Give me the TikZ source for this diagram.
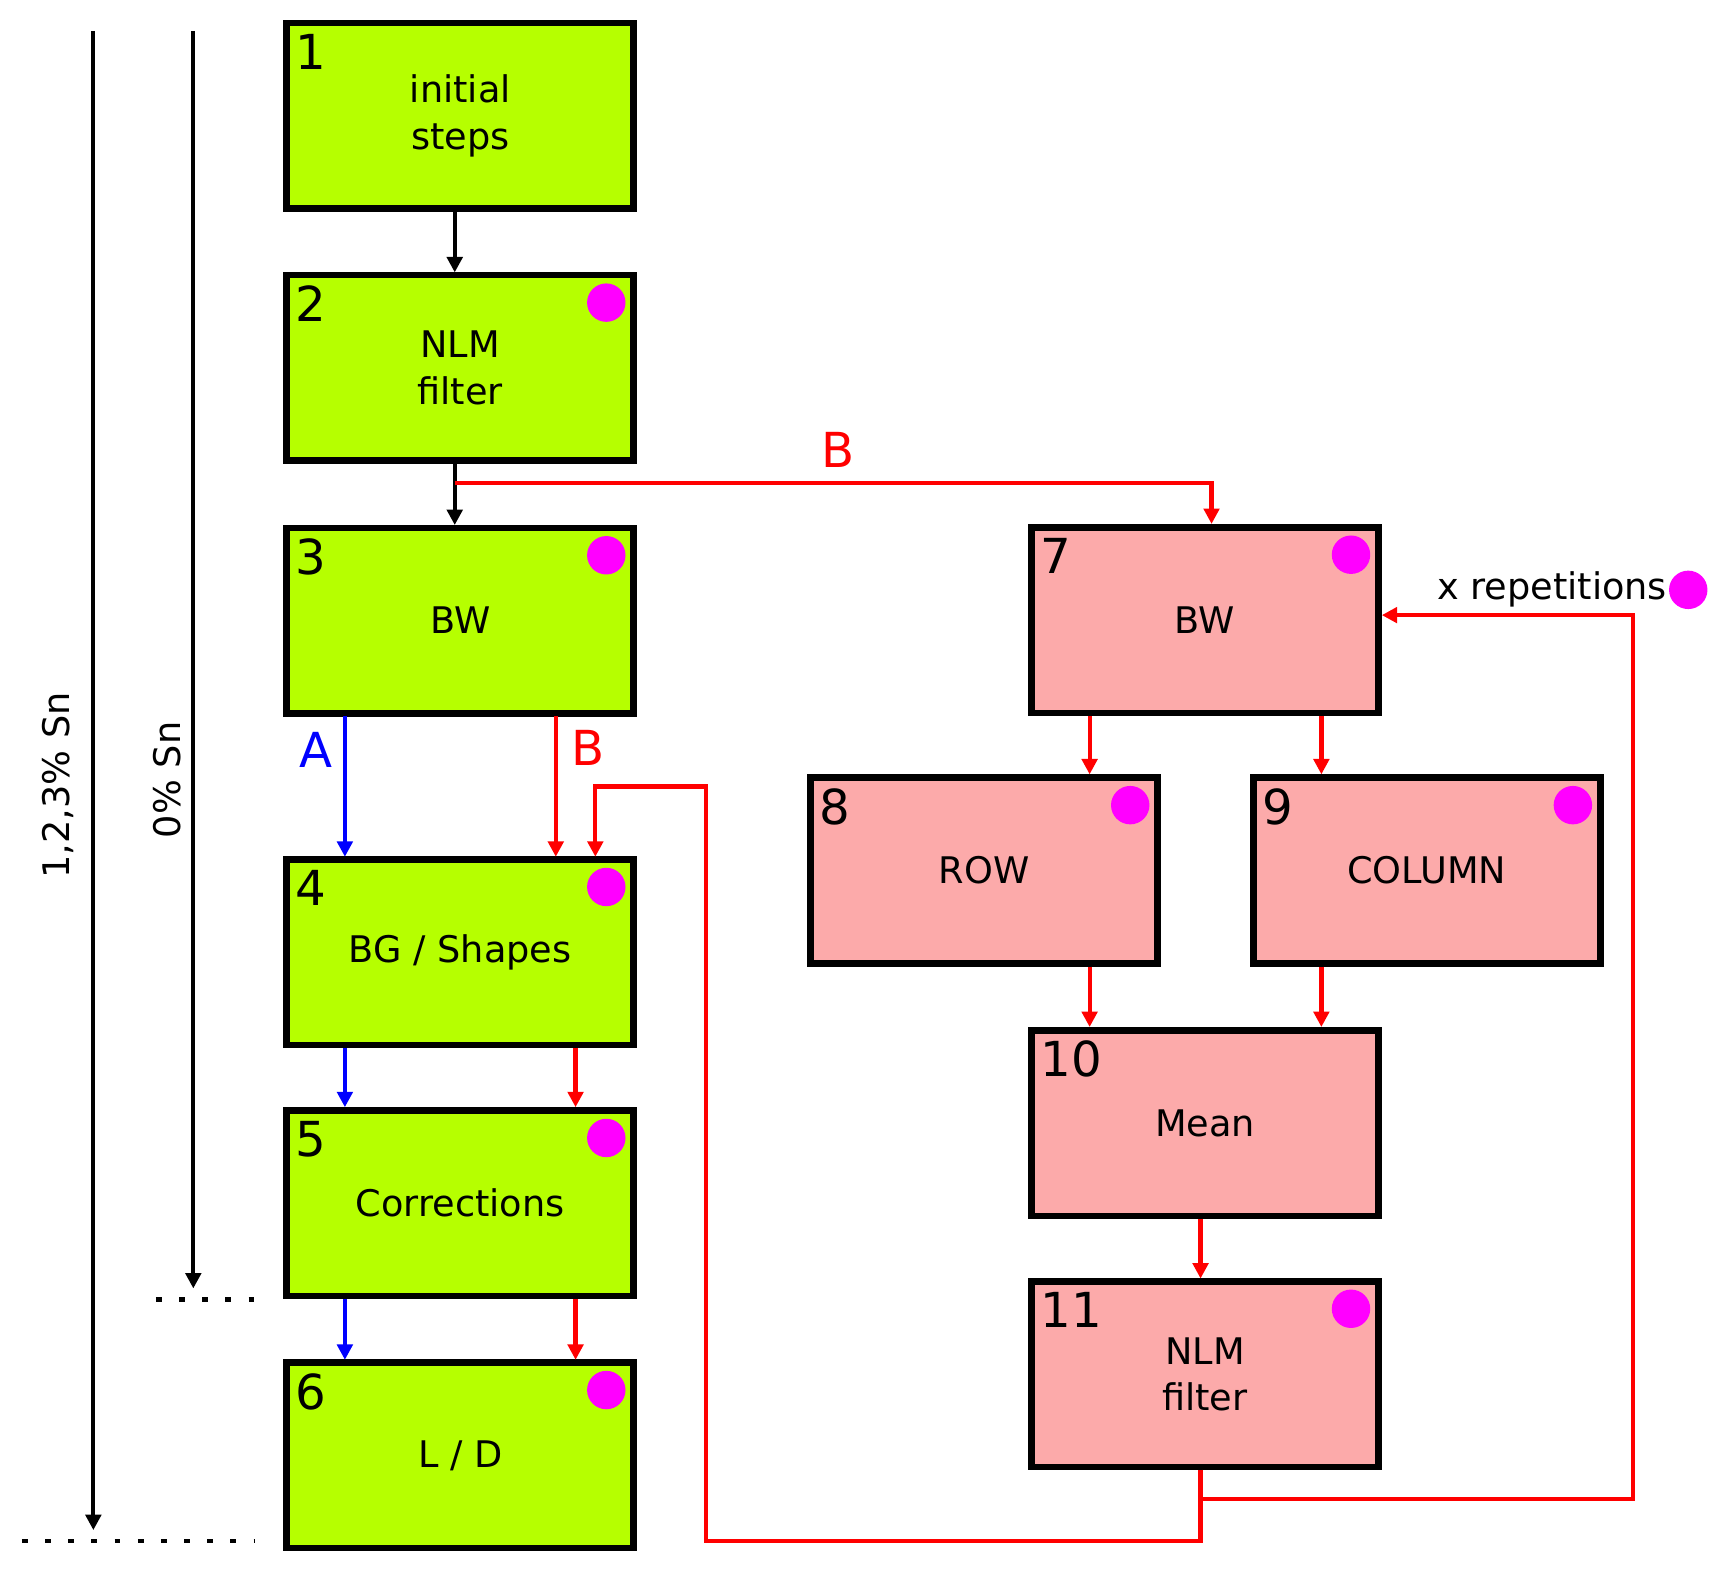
\documentclass[tikz,border=0pt]{standalone}
\usepackage{fontspec}
\setmainfont{DejaVu Sans}
\usetikzlibrary{arrows.meta,calc}
\definecolor{lg}{RGB}{182,255,0}
\definecolor{pk}{RGB}{252,170,170}
\definecolor{mg}{RGB}{255,0,255}
\begin{document}
\begin{tikzpicture}[x=0.02cm,y=-0.02cm,
 box/.style={draw,line width=3.4pt,minimum width=6.44cm-3.4pt,minimum height=3.5cm-3.4pt,align=center,font=\fontsize{19}{24}\selectfont,inner sep=0pt},
 g/.style={box,fill=lg}, p/.style={box,fill=pk},
 num/.style={font=\fontsize{25}{28}\selectfont,anchor=north west,inner sep=0pt},
 dot/.style={fill=mg,circle,minimum size=0.7cm,inner sep=0pt},
 ar/.style={line width=2.2pt,-{Triangle[length=8pt,width=8pt]}},
 bl/.style={ar,black}, rd/.style={ar,red}, bu/.style={ar,blue}]
\useasboundingbox (0,0) rectangle (1565,1436);
\foreach \n/\x/\y/\s/\t in {1/419/105.5/g/{initial\\steps},2/419/335/g/{NLM\\filter},3/419/565/g/BW,4/419/867/g/{BG / Shapes},5/419/1095.5/g/Corrections,6/419/1325/g/{L / D},7/1097/564.5/p/BW,8/896/792.5/p/ROW,9/1299/792.5/p/COLUMN,10/1097/1022.5/p/Mean,11/1097/1251/p/{NLM\\filter}}{
 \node[\s] (b\n) at (\x,\y) {\t};
 \node[num] at ($(\x,\y)+(-150,-75)$) {\n};}
\foreach \n in {2,3,4,5,6,7,8,9,11}{\node[dot] (d\n) at ($(b\n.north east)+(-28,28)$) {};}
\draw[bl] (414,193) -- (414,248);
\draw[bl] (414,422) -- (414,478);
\coordinate (sB) at (414,440);
\draw[rd] (sB) -- (1103,440) -- (1103,477);
\node[red,font=\fontsize{25}{28}\selectfont] at (763,410) {B};
\draw[bu] (314,652) -- (314,780);
\node[blue,font=\fontsize{25}{28}\selectfont] at (288,683) {A};
\draw[rd] (506,652) -- (506,780);
\node[red,font=\fontsize{25}{28}\selectfont] at (535,681) {B};
\draw[bu] (314,954) -- (314,1008);
\draw[rd] (524,954) -- (524,1008);
\draw[bu] (314,1183) -- (314,1238);
\draw[rd] (524,1183) -- (524,1238);
\draw[rd] (992,652) -- (992,705);
\draw[rd] (1203,652) -- (1203,705);
\draw[rd] (992,880) -- (992,935);
\draw[rd] (1203,880) -- (1203,935);
\draw[rd] (1093,1110) -- (1093,1164);
\draw[rd] (1093,1338) -- (1093,1403) -- (643,1403) -- (643,716) -- (542,716) -- (542,780);
\draw[rd] (1093,1365) -- (1487,1365) -- (1487,560) -- (1258,560);
\node[font=\fontsize{19}{24}\selectfont,anchor=east,inner sep=0pt] (xr) at (1518,537) {x repetitions};
\node[dot] at (1537,537) {};
\draw[bl] (85,28) -- (85,1393);
\draw[bl] (176,28) -- (176,1173);
\node[rotate=90,font=\fontsize{19}{24}\selectfont] at (53,715) {1,2,3\% Sn};
\node[rotate=90,font=\fontsize{19}{24}\selectfont] at (152,710) {0\% Sn};
\draw[line width=2.5pt,dash pattern=on 3pt off 9pt] (142,1183) -- (232,1183);
\draw[line width=2.5pt,dash pattern=on 3pt off 9pt] (20,1403) -- (232,1403);
\end{tikzpicture}
\end{document}
